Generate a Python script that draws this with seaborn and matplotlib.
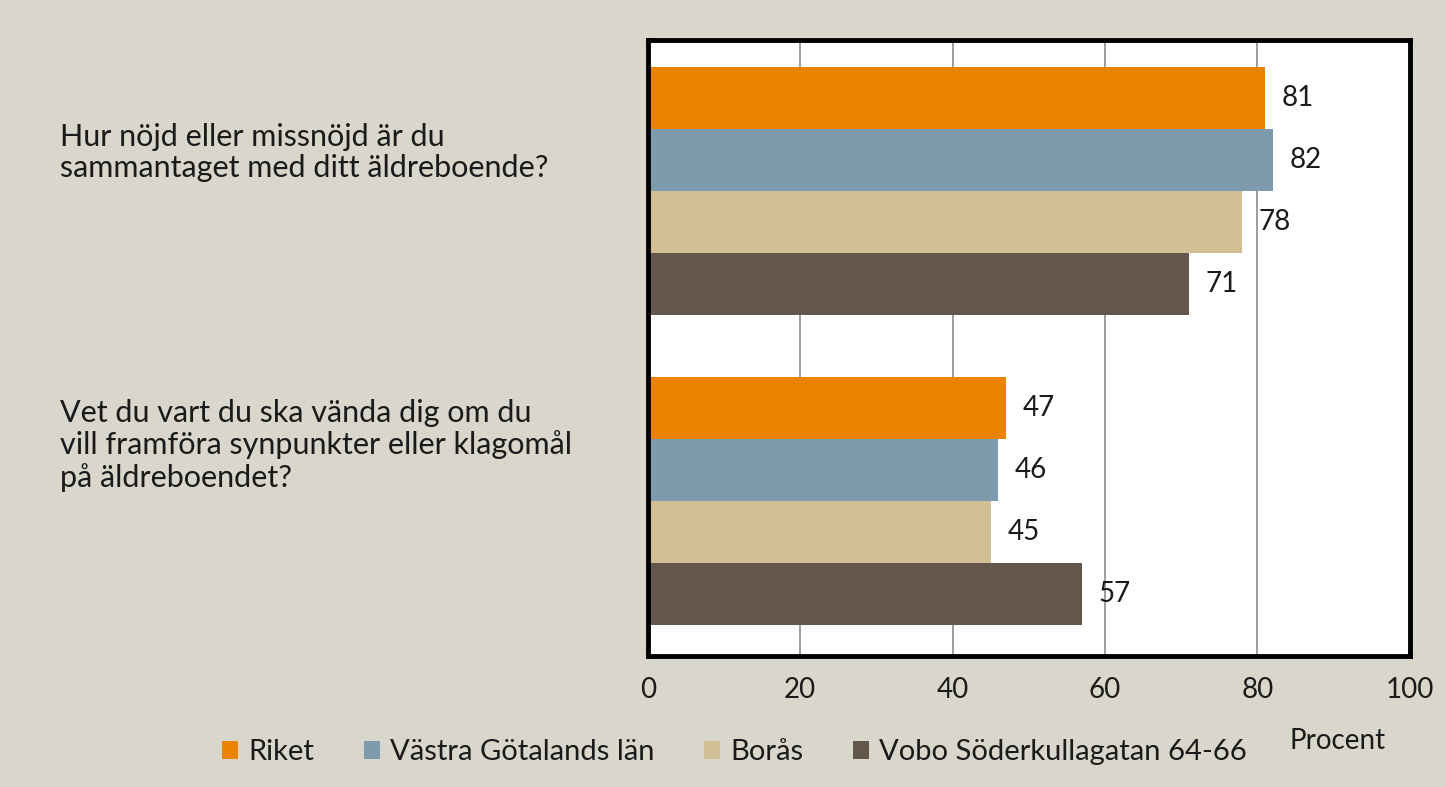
import matplotlib.pyplot as plt
import matplotlib.transforms as mtransforms
import numpy as np
import pandas as pd
import seaborn as sns

questions = [
    "Hur nöjd eller missnöjd är du\nsammantaget med ditt äldreboende?",
    "Vet du vart du ska vända dig om du\nvill framföra synpunkter eller klagomål\npå äldreboendet?",
]
groups = ["Riket", "Västra Götalands län", "Borås", "Vobo Söderkullagatan 64-66"]
riket = [81, 47]
vgl = [82, 46]
boras = [78, 45]
vobo = [71, 57]
colors = ["#E98300", "#7D9BAD", "#D2BF95", "#63564B"]
bg = "#D9D7CB"
txt = "#1a1a1a"

rows = []
for g, vals in zip(groups, [riket, vgl, boras, vobo]):
    for q, v in zip(questions, vals):
        rows.append({"Fråga": q, "Grupp": g, "Procent": v})
df = pd.DataFrame(rows)

sns.set_theme(style="white")
plt.rcParams["font.family"] = ["Lato", "DejaVu Sans"]

fig = plt.figure(figsize=(14.46, 7.87), dpi=100, facecolor=bg)
ax = fig.add_axes([0.448, 0.1665, 0.527, 0.7825])
ax.set_facecolor("white")

sns.barplot(data=df, y="Fråga", x="Procent", hue="Grupp", order=questions,
            hue_order=groups, palette=colors, orient="h", width=0.8,
            saturation=1, edgecolor="none", ax=ax, zorder=2)

for cont in ax.containers:
    ax.bar_label(cont, labels=[f"{v:.0f}" for v in cont.datavalues],
                 padding=12, fontsize=20, color=txt)

ax.set_xlim(0, 100)
ax.set_ylim(1.5, -0.487)
ax.set_xticks(np.arange(0, 101, 20))
ax.grid(axis="x", color="#8c8c8c", linewidth=1.2, zorder=0)
ax.set_axisbelow(True)
for s in ax.spines.values():
    s.set_color("black")
    s.set_linewidth(3.5)

ax.tick_params(axis="x", labelsize=20, pad=15, length=0, colors=txt)
ax.set_yticks(range(len(questions)))
ax.set_yticklabels([])
ax.tick_params(axis="y", length=0)

# question labels, left aligned at the figure's left margin
trans = mtransforms.blended_transform_factory(fig.transFigure, ax.transData)
trans = mtransforms.offset_copy(trans, fig=fig, y=9, units="dots")
for i, q in enumerate(questions):
    ax.text(60 / 1446, i, q, transform=trans, ha="left", va="bottom",
            fontsize=22, color=txt, linespacing=1.15)

ax.set_ylabel("")
ax.set_xlabel("Procent", fontsize=20, color=txt)
ax.xaxis.set_label_coords(0.905, -0.117)

handles, labels = ax.get_legend_handles_labels()
ax.get_legend().remove()
fig.legend(handles, labels, loc="center", bbox_to_anchor=(0.508, 0.044),
           ncol=4, frameon=False, fontsize=21, handlelength=0.55,
           handleheight=0.6, handletextpad=0.35, columnspacing=1.7,
           labelcolor=txt)

fig.savefig("out.png", dpi=100, facecolor=bg)
